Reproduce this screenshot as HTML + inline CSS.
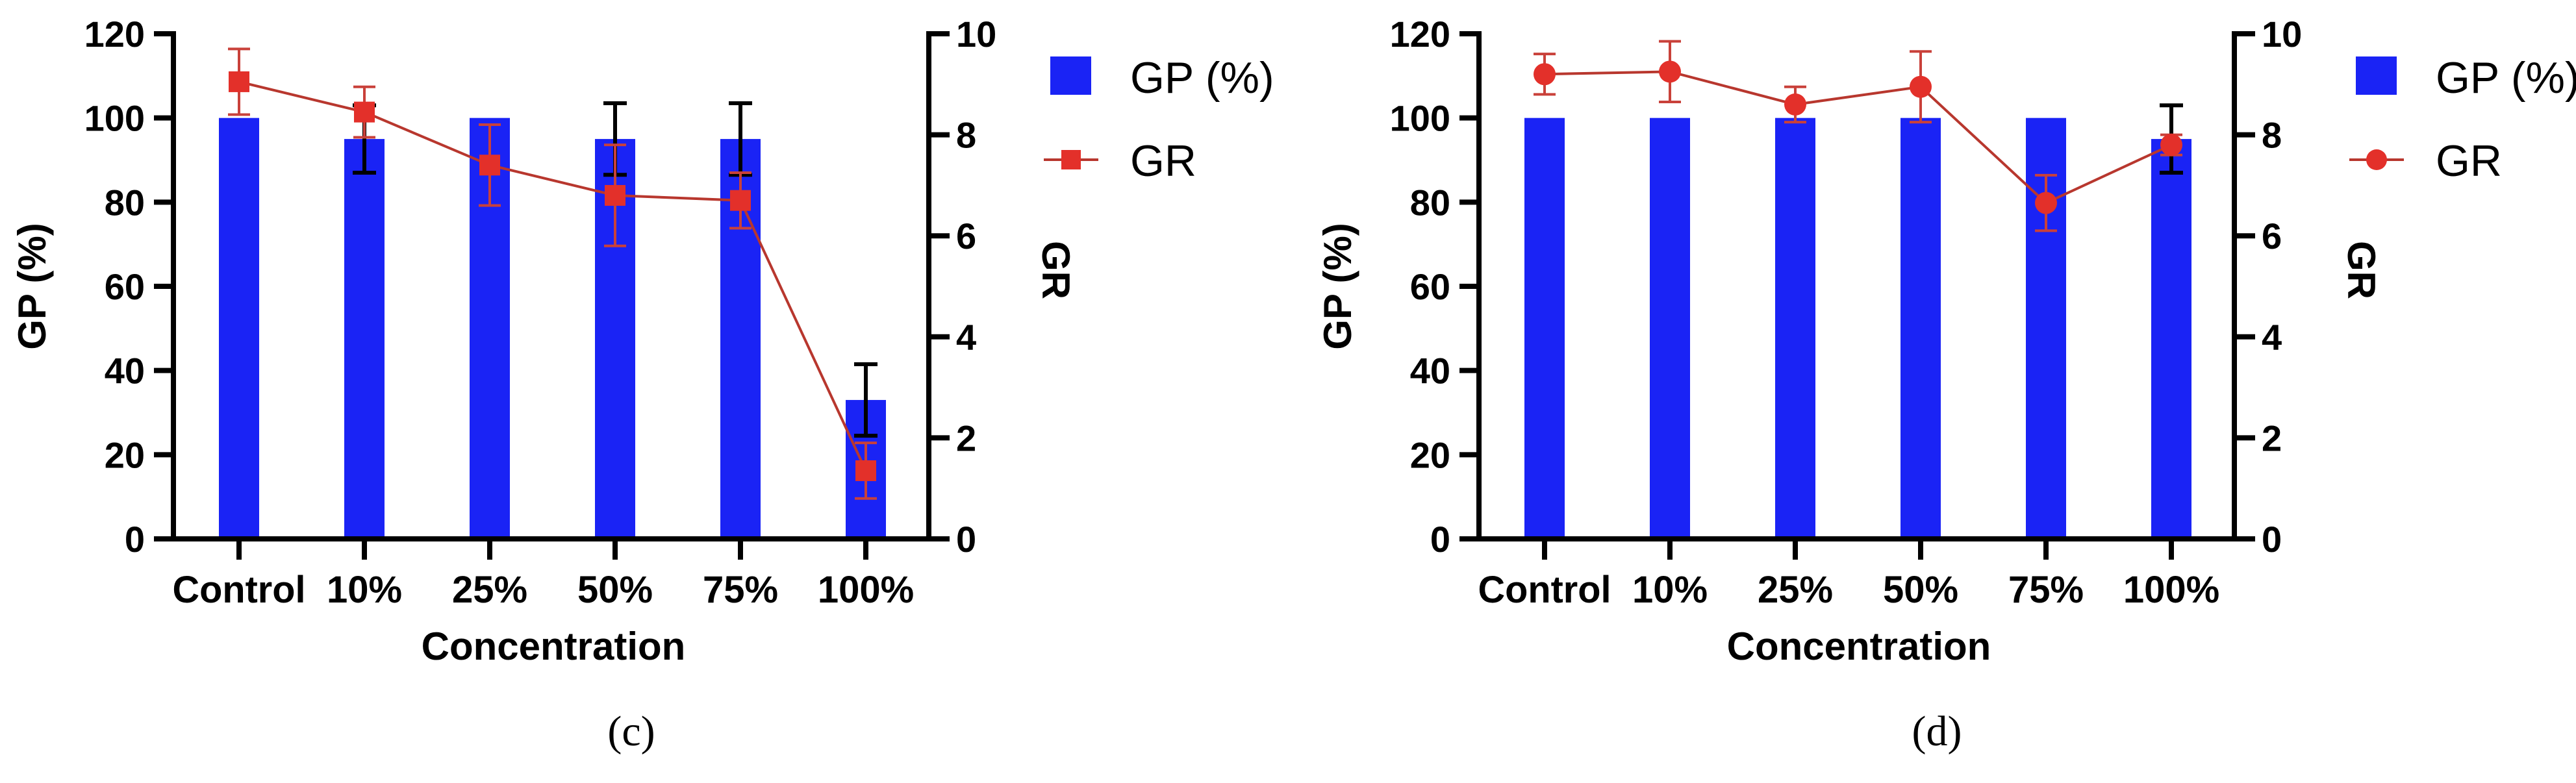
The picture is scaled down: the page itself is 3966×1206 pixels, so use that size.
<!DOCTYPE html>
<html><head><meta charset="utf-8"><style>
html,body{margin:0;padding:0;background:#fff;width:3966px;height:1206px;overflow:hidden}
svg{display:block}
text{font-family:"Liberation Sans",sans-serif}
</style></head><body>
<svg id="fig" width="3966" height="1206" viewBox="0 0 3966 1206" xmlns="http://www.w3.org/2000/svg"></svg>
<script>
const categories = ["Control","10%","25%","50%","75%","100%"];
const gpTicks = [0,20,40,60,80,100,120];
const grTicks = [0,2,4,6,8,10];
// panel (c)
const gpC = [100,95,100,95,95,33];
const gpErrC = [0,8,0,8.5,8.5,8.5];
const grC = [9.05,8.45,7.4,6.8,6.7,1.35];
const grErrC = [0.65,0.5,0.8,1.0,0.55,0.55];
// panel (d)
const gpD = [100,100,100,100,100,95];
const gpErrD = [0,0,0,0,0,8];
const grD = [9.2,9.25,8.6,8.95,6.65,7.8];
const grErrD = [0.4,0.6,0.35,0.7,0.55,0.2];

const NS="http://www.w3.org/2000/svg";
const svg=document.getElementById('fig');
function mk(tag,attrs,parent,txt){const e=document.createElementNS(NS,tag);for(const k in attrs)e.setAttribute(k,attrs[k]);if(txt!==undefined)e.textContent=txt;(parent||svg).appendChild(e);return e;}

function panel(dx,gp,gpErr,gr,grErr,marker,letter){
  const g=mk('g',{transform:`translate(${dx},0)`});
  
  
  const x0=267,x1=1430,y0=830,yTop=52;
  const yGP=v=>y0-(v/120)*(y0-yTop);
  const yGR=v=>y0-(v/10)*(y0-yTop);
  const xC=i=>368+i*193;
  gp.forEach((v,i)=>{
    const r=mk('rect',{x:xC(i)-31,y:yGP(v),width:62,height:y0-yGP(v),fill:'#1a23f5'},g);
    
    
  });
  gpErr.forEach((e,i)=>{
    if(!e)return;
    const eg=mk('g',{stroke:'#000','stroke-width':6},g);
    
    
    const t=yGP(gp[i]+e),b=yGP(gp[i]-e);
    mk('line',{x1:xC(i),x2:xC(i),y1:t,y2:b},eg);
    mk('line',{x1:xC(i)-18,x2:xC(i)+18,y1:t,y2:t},eg);
    mk('line',{x1:xC(i)-18,x2:xC(i)+18,y1:b,y2:b},eg);
  });
  const ax=mk('g',{stroke:'#000','stroke-width':8,fill:'none'},g);
  
  
  mk('line',{x1:x0,x2:x0,y1:yTop-4,y2:y0+4},ax);
  mk('line',{x1:x1,x2:x1,y1:yTop-4,y2:y0+4},ax);
  mk('line',{x1:x0-30,x2:x1+32,y1:y0,y2:y0},ax);
  gpTicks.forEach(v=>{
    mk('line',{x1:x0-30,x2:x0,y1:yGP(v),y2:yGP(v)},ax);
    const t=mk('text',{x:x0-44,y:yGP(v)+20,'text-anchor':'end','font-size':56,'font-weight':'bold',fill:'#000',stroke:'none'},g,v);
    
    
  });
  grTicks.forEach(v=>{
    mk('line',{x1:x1,x2:x1+32,y1:yGR(v),y2:yGR(v)},ax);
    const t=mk('text',{x:x1+42,y:yGR(v)+20,'font-size':56,'font-weight':'bold',fill:'#000',stroke:'none'},g,v);
    
    
  });
  categories.forEach((c,i)=>{
    mk('line',{x1:xC(i),x2:xC(i),y1:y0,y2:y0+32},ax);
    const t=mk('text',{x:xC(i),y:928,'text-anchor':'middle','font-size':58,'font-weight':'bold',fill:'#000'},g,c);
    if(c==='Control'){t.setAttribute('textLength',205);t.setAttribute('lengthAdjust','spacingAndGlyphs');}
    
    
  });
  const pts=gr.map((v,i)=>xC(i)+','+yGR(v)).join(' ');
  const pl=mk('polyline',{points:pts,fill:'none',stroke:'#b8372e','stroke-width':4},g);
  
  
  gr.forEach((v,i)=>{
    const eg=mk('g',{stroke:'#c9413a','stroke-width':4},g);
    
    
    const t=yGR(v+grErr[i]),b=yGR(v-grErr[i]);
    mk('line',{x1:xC(i),x2:xC(i),y1:t,y2:b},eg);
    mk('line',{x1:xC(i)-17,x2:xC(i)+17,y1:t,y2:t},eg);
    mk('line',{x1:xC(i)-17,x2:xC(i)+17,y1:b,y2:b},eg);
    let m;
    if(marker==='square') m=mk('rect',{x:xC(i)-16,y:yGR(v)-16,width:32,height:32,fill:'#e3302a'},g);
    else m=mk('circle',{cx:xC(i),cy:yGR(v),r:17,fill:'#e3302a'},g);
    
    
  });
  let t=mk('text',{x:0,y:0,transform:`translate(70,441) rotate(-90)`,'text-anchor':'middle','font-size':60,'font-weight':'bold',fill:'#000'},g,'GP (%)');
  
  t=mk('text',{x:0,y:0,transform:`translate(1605,416) rotate(90)`,'text-anchor':'middle','font-size':60,'font-weight':'bold',fill:'#000'},g,'GR');
  
  t=mk('text',{x:852,y:1016,'text-anchor':'middle','font-size':60,'font-weight':'bold',fill:'#000'},g,'Concentration');
  
  t=mk('text',{x:972,y:1148,'text-anchor':'middle','font-size':66,fill:'#000',style:'font-family:"Liberation Serif",serif'},g,'('+letter+')');
  
  const lg=mk('g',{},g);
  
  const l1=mk('g',{},lg);
  mk('rect',{x:1617,y:87,width:63,height:59,fill:'#1a23f5'},l1);
  mk('text',{x:1740,y:143,'font-size':68,fill:'#000'},l1,'GP (%)');
  const l2=mk('g',{},lg);
  mk('line',{x1:1607,x2:1691,y1:246,y2:246,stroke:'#b8372e','stroke-width':4},l2);
  if(marker==='square') mk('rect',{x:1634,y:231,width:30,height:30,fill:'#e3302a'},l2);
  else mk('circle',{cx:1649,cy:246,r:16,fill:'#e3302a'},l2);
  mk('text',{x:1740,y:271,'font-size':68,fill:'#000'},l2,'GR');
}
panel(0,gpC,gpErrC,grC,grErrC,'square','c');
panel(2010,gpD,gpErrD,grD,grErrD,'circle','d');
</script>
</body></html>
